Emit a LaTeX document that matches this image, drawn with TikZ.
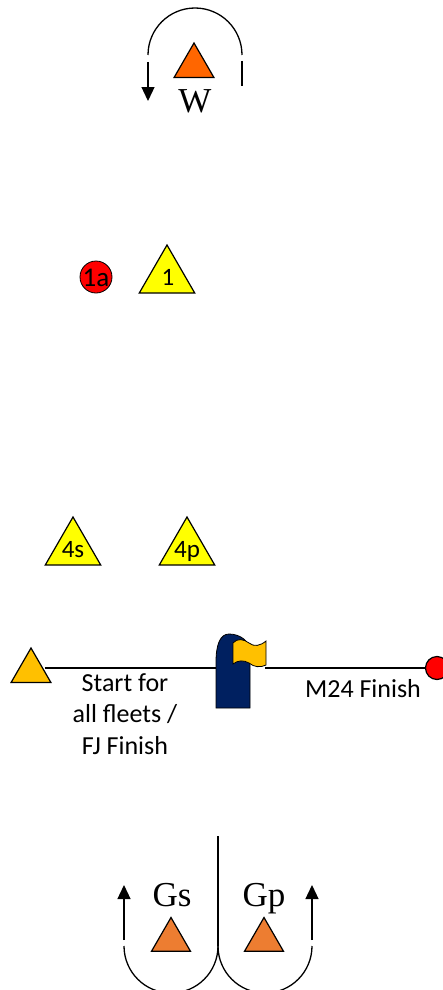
\documentclass[tikz,border=0pt]{standalone}
\usepackage{fontspec}
\setmainfont{Liberation Serif}
\newfontfamily\calib{Carlito}
\usetikzlibrary{shapes.geometric,arrows.meta}
\definecolor{wor}{HTML}{FF6600}
\definecolor{gor}{HTML}{ED7D31}
\definecolor{stc}{HTML}{FFC000}
\definecolor{navy}{HTML}{002060}
\definecolor{ylw}{HTML}{FFFF00}
\definecolor{rd}{HTML}{FF0000}
\tikzset{
  tri/.style={regular polygon, regular polygon sides=3, draw=black, line width=1.2pt, inner sep=0pt},
  mtxt/.style={inner sep=0pt, anchor=base, font=\calib\fontsize{25}{28}\selectfont},
  lbl/.style={inner sep=0pt, font=\calib\fontsize{26}{31.5}\selectfont, align=center},
  big/.style={inner sep=0pt, anchor=base, font=\fontsize{35}{40}\selectfont},
  rnd/.style={line width=1.3pt},
  arr/.style={line width=1.3pt, -{Triangle[width=13pt,length=14pt]}},
  ln/.style={line width=1.3pt}
}
\begin{document}
\begin{tikzpicture}[x=1pt,y=-1pt]
\useasboundingbox (0,0) rectangle (442,990);
% windward mark W
\node[tri, fill=wor, minimum size=46] (W) at (194,66) {};
\node[big] (Wl) at (195,112) {W};
\draw[rnd] (148,55) arc[start angle=180, end angle=360, radius=47];
\draw[arr] (148,62) -- (148,101);
\draw[ln] (242,61) -- (242,86);
% marks 1a and 1
\node[circle, fill=rd, draw=black, line width=0.8pt, minimum size=32, inner sep=0pt] (m1a) at (96,277) {};
\node[mtxt, font=\calib\fontsize{27}{30}\selectfont] (t1a) at (96,286) {1a};
\node[tri, fill=ylw, minimum size=64] (m1) at (167,277) {};
\node[mtxt] (t1) at (168,285) {1};
% marks 4s and 4p
\node[tri, fill=ylw, minimum size=64] (m4s) at (73,549) {};
\node[mtxt] (t4s) at (73,557) {4s};
\node[tri, fill=ylw, minimum size=64] (m4p) at (187,549) {};
\node[mtxt] (t4p) at (187,557) {4p};
% start line
\node[tri, fill=stc, minimum size=46] (st) at (31,671) {};
\coordinate (boatL) at (216,668);
\coordinate (flagR) at (265,668);
\node[circle, fill=rd, draw=black, line width=1.2pt, minimum size=23, inner sep=0pt] (fin) at (437,668) {};
\draw[ln] (st.east |- boatL) -- (boatL);
\draw[ln] (flagR) -- (fin.west);
% committee boat
\draw[fill=navy, line width=0.8pt] (216,708) -- (216,662)
  .. controls (216,645) and (220,634) .. (229,634)
  .. controls (240,634) and (250,641) .. (250,652) -- (250,708) -- cycle;
% flag
\draw[fill=stc, line width=0.8pt] (233,643)
  .. controls (237,638) and (244,639) .. (249,643)
  .. controls (254,647) and (260,646) .. (266,641)
  -- (266,665)
  .. controls (260,668) and (254,667) .. (249,663)
  .. controls (244,660) and (238,660) .. (233,664) -- cycle;
\node[lbl] (stl) at (125,714) {Start for\\all fleets /\\FJ Finish};
\node[lbl, anchor=base] (m24) at (363,697) {M24 Finish};
% gate
\draw[ln] (218,836) -- (218,946);
\draw[rnd] (124,946) arc[start angle=180, end angle=0, radius=47];
\draw[rnd] (218,946) arc[start angle=180, end angle=0, radius=47];
\draw[arr] (124,940) -- (124,885);
\draw[arr] (312,940) -- (312,885);
\node[tri, fill=gor, minimum size=45] (gs) at (171,940) {};
\node[tri, fill=gor, minimum size=45] (gp) at (264,940) {};
\node[big] (gsl) at (172,906) {Gs};
\node[big] (gpl) at (264,906) {Gp};
\end{tikzpicture}
\end{document}
